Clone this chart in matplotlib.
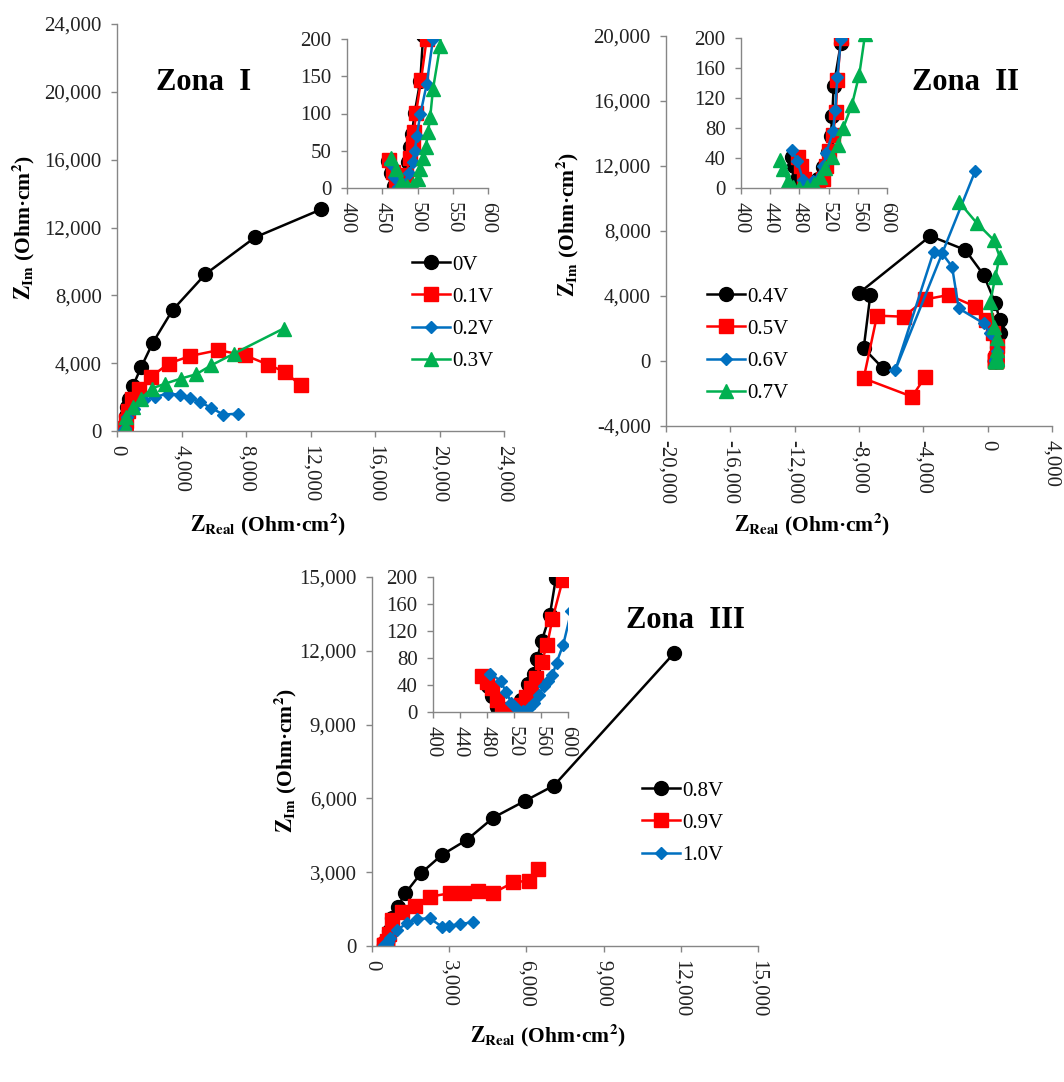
import matplotlib
matplotlib.use("Agg")
import matplotlib.pyplot as plt
from matplotlib.ticker import FuncFormatter, MultipleLocator

plt.rcParams["font.family"] = ["Liberation Serif", "DejaVu Serif"]
plt.rcParams["mathtext.fontset"] = "stix"

# ---------------- data (Z_real, Z_im in Ohm.cm2) ----------------
# Zona I
z1_labels = ["0V", "0.1V", "0.2V", "0.3V"]
z1_re_0 = [458, 463, 467, 475, 482, 487, 489, 492, 496, 504, 508, 560, 630, 722, 990, 1505, 2227, 3443, 5485, 8557, 12660]
z1_im_0 = [36, 20, 3, 2, 15, 35, 55, 72, 101, 144, 205, 900, 1400, 1909, 2657, 3780, 5217, 7126, 9252, 11417, 13070]
z1_re_1 = [460, 465, 470, 477, 484, 489, 493, 495, 498, 505, 513, 560, 700, 907, 1381, 2103, 3196, 4557, 6268, 7938, 9361, 10412, 11381]
z1_im_1 = [38, 22, 5, 2, 18, 40, 60, 75, 101, 145, 200, 600, 1200, 1909, 2500, 3189, 3976, 4429, 4764, 4469, 3917, 3484, 2697]
z1_re_2 = [461, 466, 472, 480, 488, 493, 496, 499, 504, 513, 522, 619, 1072, 1691, 2351, 3134, 3876, 4515, 5134, 5814, 6598, 7505]
z1_im_2 = [34, 15, 2, 5, 20, 35, 49, 70, 99, 139, 200, 827, 1319, 1811, 2008, 2205, 2146, 1949, 1713, 1378, 965, 1024]
z1_re_3 = [463, 470, 477, 485, 494, 500, 504, 508, 512, 515, 518, 522, 532, 557, 969, 1485, 2144, 2990, 3959, 4907, 5856, 7258, 10330]
z1_im_3 = [40, 25, 8, 3, 4, 12, 25, 40, 55, 75, 95, 133, 190, 827, 1417, 1909, 2500, 2795, 3090, 3346, 3878, 4567, 6043]

# Zona II
z2_labels = ["0.4V", "0.5V", "0.6V", "0.7V"]
z2_re_4 = [470, 473, 478, 484, 490, 498, 506, 513, 519, 523, 525, 527, 537, 580, 789, 747, 478, -248, -1387, -3564, -8021, -7295, -7710, -6506]
z2_im_4 = [42, 30, 15, 3, 0, 3, 12, 28, 48, 69, 96, 136, 194, 882, 1743, 2523, 3549, 5292, 6831, 7692, 4164, 4062, 779, -451]
z2_re_5 = [478, 482, 486, 490, 498, 506, 512, 517, 521, 526, 530, 532, 537, 560, 350, -100, -765, -2425, -3876, -5223, -6880, -7710, -4703, -3876]
z2_im_5 = [42, 30, 12, 2, 0, 3, 12, 30, 49, 71, 102, 144, 200, 900, 1700, 2500, 3344, 4062, 3795, 2728, 2790, -1067, -2195, -964]
z2_re_6 = [470, 477, 485, 499, 513, 517, 526, 529, 532, 537, 560, 167, -248, -1800, -2214, -2836, -3358, -5740, -766]
z2_im_6 = [51, 36, 11, 9, 29, 47, 76, 104, 148, 199, 600, 1703, 2318, 3241, 5805, 6626, 6727, -554, 11711]
z2_re_7 = [453, 458, 464, 471, 480, 490, 500, 508, 515, 524, 533, 540, 552, 562, 570, 560, 560, 400, 167, 478, 747, 372, -662, -1800]
z2_im_7 = [38, 25, 10, 2, 0, 2, 6, 15, 27, 42, 58, 80, 111, 151, 205, 700, 1400, 2113, 3651, 5190, 6418, 7446, 8472, 9805]

# Zona III
z3_labels = ["0.8V", "0.9V", "1.0V"]
z3_re_8 = [478, 482, 488, 495, 503, 512, 520, 530, 540, 549, 554, 561, 573, 582, 650, 776, 996, 1293, 1901, 2716, 3685, 4720, 5948, 7073, 11742]
z3_im_8 = [50, 38, 23, 8, 0, 0, 5, 18, 41, 57, 78, 105, 143, 198, 600, 1126, 1600, 2143, 2957, 3703, 4313, 5222, 5900, 6524, 11908]
z3_re_9 = [473, 480, 487, 495, 502, 510, 520, 530, 538, 545, 552, 561, 569, 577, 592, 650, 776, 1164, 1655, 2263, 3013, 3556, 4138, 4694, 5496, 6117, 6466]
z3_im_9 = [53, 45, 35, 18, 5, 0, 2, 10, 22, 36, 51, 74, 99, 138, 195, 500, 1058, 1397, 1628, 2007, 2143, 2143, 2251, 2143, 2590, 2658, 3119]
z3_re_10 = [485, 500, 508, 516, 525, 534, 542, 550, 557, 564, 570, 577, 583, 593, 605, 711, 970, 1358, 1746, 2237, 2716, 2974, 3427, 3918]
z3_im_10 = [57, 46, 30, 14, 5, 2, 6, 14, 25, 38, 46, 55, 73, 100, 150, 312, 651, 922, 1099, 1126, 787, 814, 895, 963]

STYLES = [
    dict(color="#000000", marker="o", ms=10),
    dict(color="#FF0000", marker="s", ms=9.5),
    dict(color="#0070C0", marker="D", ms=6.5),
    dict(color="#00B050", marker="^", ms=9.5),
]
AXIS_GRAY = "#868686"
W, H = 1064, 1082

fmt = FuncFormatter(lambda v, p: f"{v:,.0f}")


def px_axes(fig, left, top, right, bottom):
    return fig.add_axes([left / W, 1 - bottom / H, (right - left) / W, (bottom - top) / H])


def style_axes(ax, xlim, ylim, xstep, ystep):
    ax.set_xlim(*xlim)
    ax.set_ylim(*ylim)
    ax.xaxis.set_major_locator(MultipleLocator(xstep))
    ax.yaxis.set_major_locator(MultipleLocator(ystep))
    ax.xaxis.set_major_formatter(fmt)
    ax.yaxis.set_major_formatter(fmt)
    ax.set_facecolor("none")
    for s in ["top", "right"]:
        ax.spines[s].set_visible(False)
    for s in ["left", "bottom"]:
        ax.spines[s].set_color(AXIS_GRAY)
        ax.spines[s].set_linewidth(1.0)
    ax.tick_params(axis="both", direction="out", length=4, width=1.0,
                   color=AXIS_GRAY, labelsize=15, labelcolor="#222222")
    ax.tick_params(axis="x", labelrotation=-90, pad=6)
    ax.tick_params(axis="y", pad=7)


def draw_series(ax, series, labels=None):
    for i, (re, im) in enumerate(series):
        st = STYLES[i]
        ax.plot(re, im, color=st["color"], marker=st["marker"], markersize=st["ms"],
                linewidth=1.8, label=labels[i] if labels else None)


def add_legend(fig, ax, x_px, yc_px):
    ax.legend(loc="center left", bbox_to_anchor=(x_px / W, 1 - yc_px / H),
              bbox_transform=fig.transFigure, frameon=False, fontsize=15,
              handlelength=1.8, handletextpad=0.12, labelspacing=0.6,
              borderpad=0, borderaxespad=0, numpoints=1)


XLAB = r"$\mathbf{Z}_{\mathbf{Real}}$ (Ohm·cm$^{\mathbf{2}}$)"
YLAB = r"$\mathbf{Z}_{\mathbf{Im}}$ (Ohm·cm$^{\mathbf{2}}$)"
LAB_FS = 15.5

fig = plt.figure(figsize=(W / 100, H / 100), dpi=100)

# ---- Zona I ----
z1 = [(z1_re_0, z1_im_0), (z1_re_1, z1_im_1), (z1_re_2, z1_im_2), (z1_re_3, z1_im_3)]
ax1 = px_axes(fig, 117, 24, 504, 431)
style_axes(ax1, (0, 24000), (0, 24000), 4000, 4000)
draw_series(ax1, z1, z1_labels)
add_legend(fig, ax1, 412, 313)
ax1i = px_axes(fig, 347, 39, 488, 188)
style_axes(ax1i, (400, 600), (0, 200), 50, 50)
draw_series(ax1i, z1)
fig.text(204 / W, 1 - 83 / H, "Zona  I", fontsize=22, fontweight="bold", ha="center", va="center")
fig.text(23 / W, 1 - 228 / H, YLAB, fontsize=LAB_FS, fontweight="bold", rotation=90, ha="center", va="center")
fig.text(268 / W, 1 - 524 / H, XLAB, fontsize=LAB_FS, fontweight="bold", ha="center", va="center")

# ---- Zona II ----
z2 = [(z2_re_4, z2_im_4), (z2_re_5, z2_im_5), (z2_re_6, z2_im_6), (z2_re_7, z2_im_7)]
ax2 = px_axes(fig, 666, 36, 1052, 426)
style_axes(ax2, (-20000, 4000), (-4000, 20000), 4000, 4000)
draw_series(ax2, z2, z2_labels)
add_legend(fig, ax2, 707, 345)
ax2i = px_axes(fig, 741, 38, 887, 188)
style_axes(ax2i, (400, 600), (0, 200), 40, 40)
draw_series(ax2i, z2)
fig.text(966 / W, 1 - 83 / H, "Zona  II", fontsize=22, fontweight="bold", ha="center", va="center")
fig.text(567 / W, 1 - 225 / H, YLAB, fontsize=LAB_FS, fontweight="bold", rotation=90, ha="center", va="center")
fig.text(812 / W, 1 - 524 / H, XLAB, fontsize=LAB_FS, fontweight="bold", ha="center", va="center")

# ---- Zona III ----
z3 = [(z3_re_8, z3_im_8), (z3_re_9, z3_im_9), (z3_re_10, z3_im_10)]
ax3 = px_axes(fig, 372, 577, 758, 946)
style_axes(ax3, (0, 15000), (0, 15000), 3000, 3000)
draw_series(ax3, z3, z3_labels)
add_legend(fig, ax3, 642, 823)
ax3i = px_axes(fig, 433, 577, 568, 712)
style_axes(ax3i, (400, 600), (0, 200), 40, 40)
draw_series(ax3i, z3)
fig.text(685 / W, 1 - 621 / H, "Zona  III", fontsize=22, fontweight="bold", ha="center", va="center")
fig.text(285 / W, 1 - 761 / H, YLAB, fontsize=LAB_FS, fontweight="bold", rotation=90, ha="center", va="center")
fig.text(548 / W, 1 - 1035 / H, XLAB, fontsize=LAB_FS, fontweight="bold", ha="center", va="center")

fig.savefig("out.png", dpi=100)
